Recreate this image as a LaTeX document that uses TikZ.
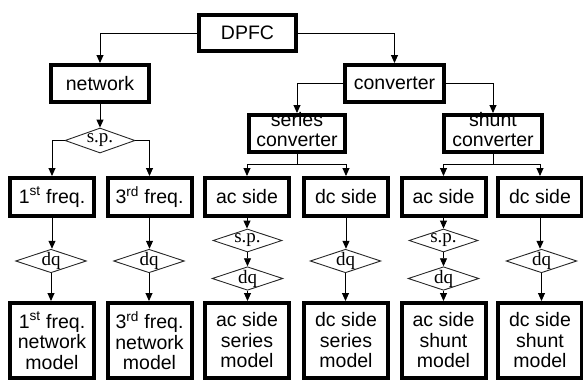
\documentclass[tikz,border=0pt]{standalone}
\usepackage{fontspec}
\setmainfont{Liberation Sans}
\newfontfamily\dfont{Liberation Serif}
\usetikzlibrary{shapes.geometric,arrows.meta}
\begin{document}
\begin{tikzpicture}[x=1pt,y=-1pt,
  bx/.style={draw=black,line width=4pt,rectangle,inner sep=0pt,align=center,
    font=\fontsize{19.5}{20.5}\selectfont},
  bxtext/.style={inner sep=0pt,align=center,font=\fontsize{19.5}{20}\selectfont},
  dm/.style={draw=black!85,line width=0.9pt,diamond,aspect=3,inner sep=0pt,
    minimum width=69pt,minimum height=23pt,font=\dfont\fontsize{19}{19}\selectfont},
  arr/.style={-{Triangle[length=8pt,width=7pt]},line width=0.9pt},
  ln/.style={line width=0.9pt}]
\useasboundingbox (0,0) rectangle (583,380);
% top levels
\node[bx,minimum width=97pt,minimum height=36pt] (dpfc) at (247.5,33) {DPFC};
\node[bx,minimum width=98pt,minimum height=37pt] (net) at (100,83.5) {network};
\node[bx,minimum width=99pt,minimum height=37pt] (conv) at (394.5,83.5) {converter};
\node[bxtext] (sert) at (297,130) {series\\converter};
\node[bx,minimum width=96pt,minimum height=37pt] (ser) at (297,133.5) {};
\node[bxtext] (shut) at (493,130) {shunt\\converter};
\node[bx,minimum width=98pt,minimum height=37pt] (shu) at (493,133.5) {};
% row 3
\tikzset{r3/.style={bx,minimum width=84pt,minimum height=38pt}}
\node[r3] (f1) at (52,197) {1\textsuperscript{st} freq.};
\node[r3] (f3) at (149.5,197) {3\textsuperscript{rd} freq.};
\node[r3] (acs) at (247,197) {ac side};
\node[r3] (dcs) at (346,197) {dc side};
\node[r3] (ach) at (443.5,197) {ac side};
\node[r3] (dch) at (540,197) {dc side};
% bottom row
\tikzset{r4/.style={bx,minimum width=84pt,minimum height=75pt}}
\node[r4] (m1) at (52,340.5) {1\textsuperscript{st} freq.\\network\\model};
\node[r4] (m3) at (149.5,340.5) {3\textsuperscript{rd} freq.\\network\\model};
\node[r4] (macs) at (247,340.5) {ac side\\series\\model};
\node[r4] (mdcs) at (346,340.5) {dc side\\series\\model};
\node[r4] (mach) at (443.5,340.5) {ac side\\shunt\\model};
\node[r4] (mdch) at (540,340.5) {dc side\\shunt\\model};
% diamonds
\node[dm,minimum width=70pt,minimum height=25pt] (sp1) at (100,140.5) {s.p.};
\node[dm] (dq1) at (51,261) {dq};
\node[dm] (dq3) at (149,261) {dq};
\node[dm] (spa) at (247.5,240.5) {s.p.};
\node[dm] (dqa) at (247.5,278.5) {dq};
\node[dm] (dqd) at (345.5,261) {dq};
\node[dm] (spb) at (443.5,240.5) {s.p.};
\node[dm] (dqb) at (443.5,278.5) {dq};
\node[dm] (dqe) at (541.5,261) {dq};
% connectors
\draw[arr] (dpfc.west) -| (net.north);
\draw[arr] (dpfc.east) -| (conv.north);
\draw[arr] (net.south) -- (sp1.north);
\draw[arr] (sp1.west) -| (f1.north);
\draw[arr] (sp1.east) -| (f3.north);
\draw[arr] (conv.west) -| (ser.north);
\draw[arr] (conv.east) -| (shu.north);
\coordinate (sj) at (297,164);
\coordinate (hj) at (493,164);
\draw[ln] (ser.south) -- (sj);
\draw[arr] (sj) -| (acs.north);
\draw[arr] (sj) -| (dcs.north);
\draw[ln] (shu.south) -- (hj);
\draw[arr] (hj) -| (ach.north);
\draw[arr] (hj) -| (dch.north);
\draw[arr] (f1.south) -- (f1.south |- dq1.north);
\draw[arr] (dq1.south) -- (dq1.south |- m1.north);
\draw[arr] (f3.south) -- (f3.south |- dq3.north);
\draw[arr] (dq3.south) -- (dq3.south |- m3.north);
\draw[arr] (acs.south) -- (acs.south |- spa.north);
\draw[arr] (spa.south) -- (dqa.north);
\draw[arr] (dqa.south) -- (dqa.south |- macs.north);
\draw[arr] (dcs.south) -- (dcs.south |- dqd.north);
\draw[arr] (dqd.south) -- (dqd.south |- mdcs.north);
\draw[arr] (ach.south) -- (ach.south |- spb.north);
\draw[arr] (spb.south) -- (dqb.north);
\draw[arr] (dqb.south) -- (dqb.south |- mach.north);
\draw[arr] (dch.south) -- (dch.south |- dqe.north);
\draw[arr] (dqe.south) -- (dqe.south |- mdch.north);
\end{tikzpicture}
\end{document}
